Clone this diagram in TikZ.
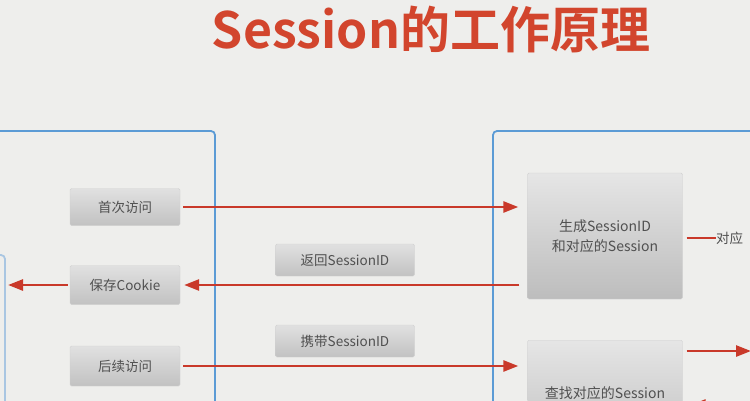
\documentclass[tikz,border=0pt]{standalone}
\usepackage{fontspec}
\setmainfont{Noto Sans CJK SC}[BoldFont={Noto Sans CJK SC Bold}]
\usetikzlibrary{arrows.meta,calc}
\definecolor{bg}{HTML}{EEEEEC}
\definecolor{titlered}{HTML}{D2452D}
\definecolor{arrred}{HTML}{C9392A}
\definecolor{frameblue}{HTML}{5B9BD5}
\definecolor{lightblue}{HTML}{A9C6E2}
\definecolor{txtgray}{HTML}{505050}
\tikzset{
  gbox/.style={rectangle, rounded corners=1.5pt, top color=black!12, bottom color=black!24,
    draw=black!18, line width=0.4pt, text=txtgray, font=\fontsize{13.5}{16}\selectfont,
    inner sep=0pt, align=center},
  bigbox/.style={gbox, top color=black!10, bottom color=black!26, font=\fontsize{14}{20}\selectfont},
  frame/.style={draw=frameblue, line width=1.8pt, rounded corners=4pt},
  arr/.style={draw=arrred, line width=2.6pt, -{Triangle[length=15pt,width=11pt]}},
  plainline/.style={draw=arrred, line width=2.6pt},
}
\begin{document}
\begin{tikzpicture}[x=1pt,y=-1pt]
\useasboundingbox (0,0) rectangle (750,400);
\clip (0,0) rectangle (750,400);
\fill[bg] (-10,-10) rectangle (760,410);
% title
\node[font=\bfseries\fontsize{50}{54}\selectfont, text=titlered] (title) at (431,29) {Session的工作原理};
% frames
\draw[frame] (-30,131) rectangle (215,440);
\draw[draw=lightblue, line width=1.8pt, rounded corners=4pt] (-60,255) rectangle (5,440);
\draw[frame] (493,131) rectangle (800,440);
% client boxes
\node[gbox, minimum width=110pt, minimum height=37pt] (first) at (125,207) {首次访问};
\node[gbox, minimum width=110pt, minimum height=39pt] (save) at (125,285) {保存Cookie};
\node[gbox, minimum width=110pt, minimum height=40pt] (later) at (125,366) {后续访问};
% labels
\node[gbox, minimum width=139pt, minimum height=32pt] (ret) at (345,260) {返回SessionID};
\node[gbox, minimum width=139pt, minimum height=32pt] (carry) at (345,341) {携带SessionID};
% server boxes
\node[bigbox, minimum width=155pt, minimum height=126pt] (gen) at (605,236) {生成SessionID\\和对应的Session};
\node[bigbox, minimum width=155pt, minimum height=120pt, anchor=north] (find) at (605,340) {};
\node[text=txtgray, font=\fontsize{14}{16}\selectfont] (findtxt) at (605,393) {查找对应的Session};
\node[text=txtgray, font=\fontsize{13.5}{16}\selectfont, anchor=west, inner sep=0pt] (corr) at (716,238) {对应};
% coordinates
\coordinate (farleft) at (5,285);
\coordinate (rightout) at (751,351);
\coordinate (rightin) at (770,405);
% connectors
\draw[arr, shorten <=3pt, shorten >=9pt] (first.east) -- (first.east -| gen.west);
\draw[arr, shorten <=8pt, shorten >=4pt] (save.east -| gen.west) -- (save.east);
\draw[arr, shorten <=2pt, shorten >=3pt] (save.west) -- (farleft);
\draw[arr, shorten <=3pt, shorten >=9pt] (later.east) -- (later.east -| find.west);
\draw[plainline, shorten <=4pt] (gen.east |- corr.west) -- (corr.west);
\draw[arr, shorten <=4pt] (find.north east |- rightout) -- (rightout);
\draw[arr, shorten >=8pt] (rightin) -- (find.north east |- rightin);
\end{tikzpicture}
\end{document}
